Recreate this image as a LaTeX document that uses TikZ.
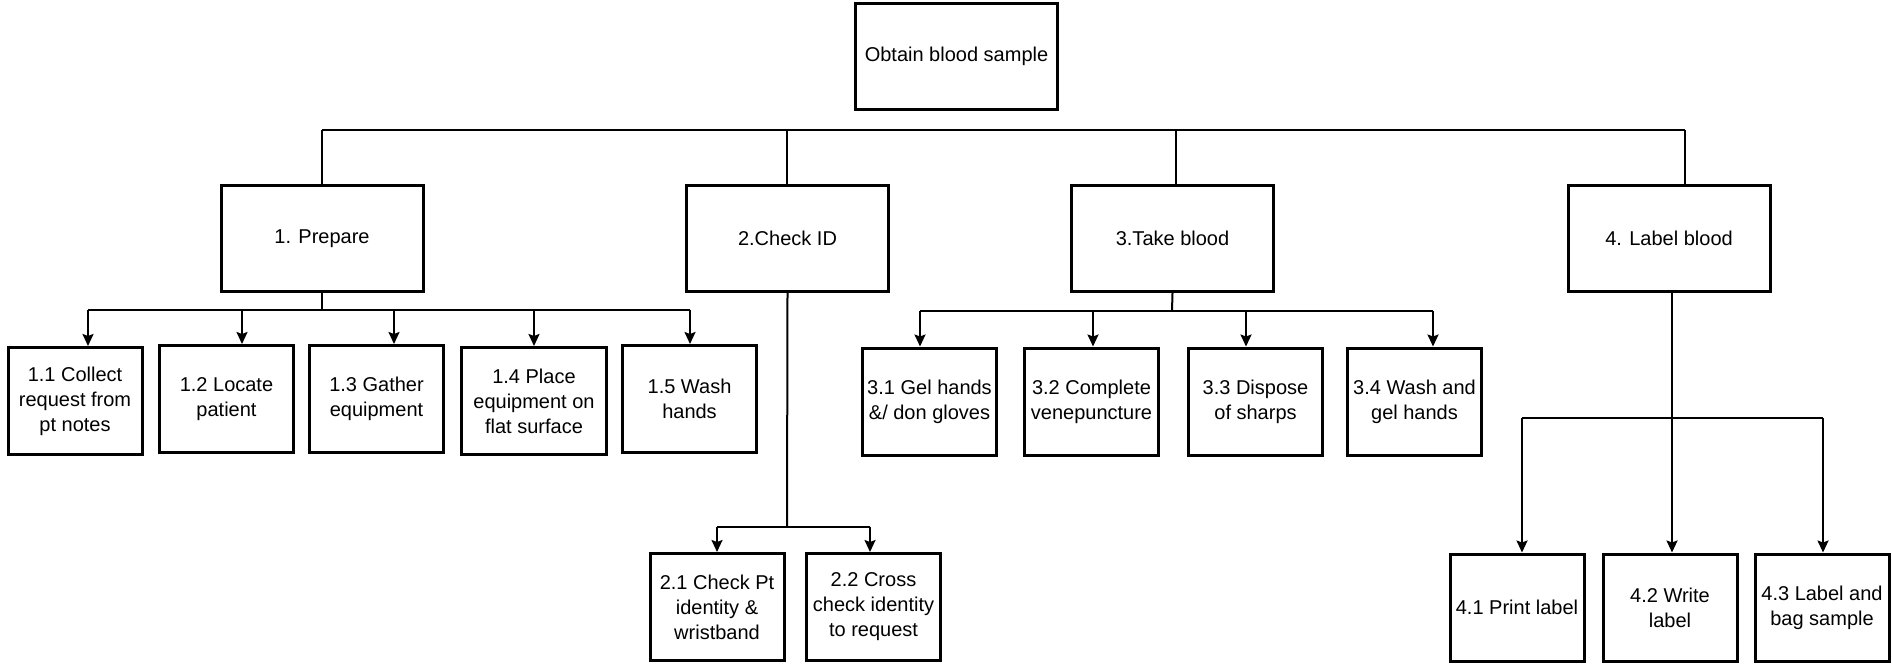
\documentclass[tikz,border=0pt]{standalone}
\usepackage{fontspec}
\setmainfont{Liberation Sans}
\usetikzlibrary{arrows.meta}
\begin{document}
\begin{tikzpicture}[x=1pt,y=-1pt,
  box/.style={draw,line width=3pt,align=center,inner sep=2pt,
    font=\fontsize{20}{25}\selectfont},
  bigbox/.style={box,minimum width=202pt,minimum height=106pt},
  smallbox/.style={box,minimum width=134pt,minimum height=107pt},
  conn/.style={line width=2pt},
  arr/.style={line width=2pt,-{Stealth[length=12pt,width=11pt,inset=2pt]}}]
\useasboundingbox (0,0) rectangle (1892,664);
% top
\node[bigbox] (top) at (956.5,56.5) {Obtain blood sample};
% level 1
\node[bigbox] (b1) at (322,238.5) {1. Prepare};
\node[bigbox] (b2) at (787.5,238.5) {2.Check ID};
\node[bigbox] (b3) at (1172.5,238.5) {3.Take blood};
\node[bigbox] (b4) at (1669,238.5) {4. Label blood};
% level 2 : 1.x
\node[smallbox] (b11) at (75,401) {1.1 Collect\\request from\\pt notes};
\node[smallbox] (b12) at (226.5,399) {1.2 Locate\\patient};
\node[smallbox] (b13) at (376.5,399) {1.3 Gather\\equipment};
\node[smallbox,minimum width=145pt] (b14) at (534,401) {1.4 Place\\equipment on\\flat surface};
\node[smallbox] (b15) at (689.5,399) {1.5 Wash\\hands};
% 2.x
\node[smallbox] (b21) at (717,607) {2.1 Check Pt\\identity \&\\wristband};
\node[smallbox] (b22) at (873.5,607) {2.2 Cross\\check identity\\to request};
% 3.x
\node[smallbox] (b31) at (929.5,401.5) {3.1 Gel hands\\\&/ don gloves};
\node[smallbox] (b32) at (1091.5,401.5) {3.2 Complete\\venepuncture};
\node[smallbox] (b33) at (1255.5,401.5) {3.3 Dispose\\of sharps};
\node[smallbox] (b34) at (1414.5,401.5) {3.4 Wash and\\gel hands};
% 4.x
\node[smallbox] (b41) at (1517,607.5) {4.1 Print label};
\node[smallbox] (b42) at (1670,607.5) {4.2 Write\\label};
\node[smallbox] (b43) at (1822,607.5) {4.3 Label and\\bag sample};

% top bus
\coordinate (t1) at (322,130);
\coordinate (t2) at (787,130);
\coordinate (t3) at (1176,130);
\coordinate (t4) at (1685,130);
\draw[conn] (t1) -- (t4);
\draw[conn] (t1) -- (t1 |- b1.north);
\draw[conn] (t2) -- (t2 |- b2.north);
\draw[conn] (t3) -- (t3 |- b3.north);
\draw[conn] (t4) -- (t4 |- b4.north);

% 1.x bus
\coordinate (j1) at (322,310);
\coordinate (p11) at (88,310);
\coordinate (p12) at (242,310);
\coordinate (p13) at (394,310);
\coordinate (p14) at (534,310);
\coordinate (p15) at (690,310);
\draw[conn] (b1.south) -- (j1);
\draw[conn] (p11) -- (p15);
\draw[arr] (p11) -- (p11 |- b11.north);
\draw[arr] (p12) -- (p12 |- b12.north);
\draw[arr] (p13) -- (p13 |- b13.north);
\draw[arr] (p14) -- (p14 |- b14.north);
\draw[arr] (p15) -- (p15 |- b15.north);

% 2.x bus
\coordinate (j2) at (787,527);
\coordinate (p21) at (717,527);
\coordinate (p22) at (870,527);
\draw[conn] (b2.south) -- (j2);
\draw[conn] (p21) -- (p22);
\draw[arr] (p21) -- (p21 |- b21.north);
\draw[arr] (p22) -- (p22 |- b22.north);

% 3.x bus
\coordinate (j3) at (1172,311);
\coordinate (p31) at (920,311);
\coordinate (p32) at (1093,311);
\coordinate (p33) at (1246,311);
\coordinate (p34) at (1433,311);
\draw[conn] (b3.south) -- (j3);
\draw[conn] (p31) -- (p34);
\draw[arr] (p31) -- (p31 |- b31.north);
\draw[arr] (p32) -- (p32 |- b32.north);
\draw[arr] (p33) -- (p33 |- b33.north);
\draw[arr] (p34) -- (p34 |- b34.north);

% 4.x
\coordinate (j4) at (1672,293);
\coordinate (p41) at (1522,418);
\coordinate (p43) at (1823,418);
\draw[arr] (b4.south -| j4) -- (j4 |- b42.north);
\draw[conn] (p41) -- (p43);
\draw[arr] (p41) -- (p41 |- b41.north);
\draw[arr] (p43) -- (p43 |- b43.north);
\end{tikzpicture}
\end{document}
